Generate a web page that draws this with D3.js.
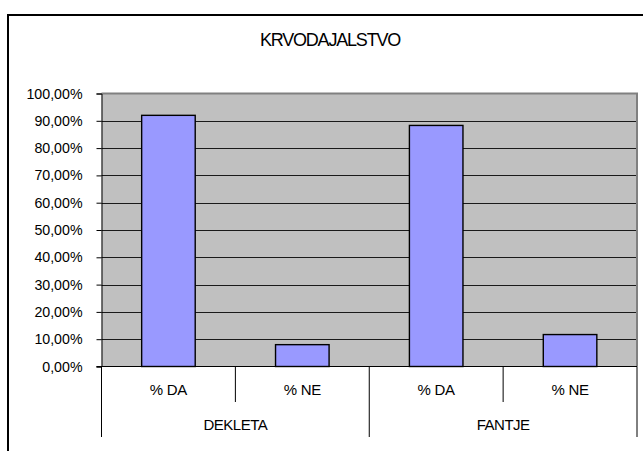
<!DOCTYPE html>
<html>
<head>
<meta charset="utf-8">
<script src="https://cdn.jsdelivr.net/npm/d3@7"></script>
<style>
  body { margin: 0; background: #fff; }
  svg text { font-family: Arial, "Liberation Sans", sans-serif; fill: #000; }
</style>
</head>
<body>
<div id="chart"></div>
<script>
// data
var title = 'KRVODAJALSTVO';
var groups = ['DEKLETA', 'FANTJE'];
var categories = ['% DA', '% NE'];
var dekletaValues = [0.92, 0.08];
var fantjeValues = [0.883, 0.117];
var yTickValues = [0, 0.1, 0.2, 0.3, 0.4, 0.5, 0.6, 0.7, 0.8, 0.9, 1];

var seriesByGroup = [dekletaValues, fantjeValues];
var rows = [];
groups.forEach(function(g, gi){
  categories.forEach(function(c, ci){
    rows.push({group: g, cat: c, value: seriesByGroup[gi][ci]});
  });
});

var width = 643, height = 451;
var plot = {left: 101.5, right: 637, top: 93.5, bottom: 366.5};

var svg = d3.select('#chart').append('svg')
  .attr('width', width).attr('height', height);

// outer chart border (cut off at the right and bottom in the original)
svg.append('rect')
  .attr('x', 8).attr('y', 15)
  .attr('width', 700).attr('height', 500)
  .attr('fill', 'none').attr('stroke', '#000').attr('stroke-width', 2);

svg.append('text')
  .attr('x', 330).attr('y', 45.5)
  .attr('text-anchor', 'middle')
  .style('font-size', '18px')
  .style('letter-spacing', '-1.2px')
  .text(title);

var locale = d3.formatLocale({decimal: ',', thousands: '.', grouping: [3], currency: ['', '']});
var pct = locale.format('.2%');

var y = d3.scaleLinear().domain([0, 1]).range([plot.bottom, plot.top]);
var x0 = d3.scaleBand().domain(groups).range([plot.left, plot.right]);
var x1 = d3.scaleBand().domain(categories).range([0, x0.bandwidth()])
  .paddingInner(0.6).paddingOuter(0.3);
var xSub = d3.scaleBand().domain(categories).range([0, x0.bandwidth()]);

// plot area
svg.append('rect')
  .attr('x', plot.left).attr('y', plot.top)
  .attr('width', plot.right - plot.left).attr('height', plot.bottom - plot.top)
  .attr('fill', '#C0C0C0');
svg.append('path')
  .attr('d', 'M' + plot.left + ',' + plot.top + 'H' + plot.right + 'V' + plot.bottom)
  .attr('fill', 'none').attr('stroke', '#808080').attr('stroke-width', 2);

// gridlines
svg.append('g').selectAll('line')
  .data(yTickValues.filter(function(d){ return d > 0 && d < 1; }))
  .join('line')
  .attr('x1', plot.left).attr('x2', plot.right - 1)
  .attr('y1', function(d){ return Math.round(y(d)) + 0.5; })
  .attr('y2', function(d){ return Math.round(y(d)) + 0.5; })
  .attr('stroke', '#1a1a1a').attr('stroke-width', 1);

// bars
svg.append('g').selectAll('rect')
  .data(rows)
  .join('rect')
  .attr('x', function(d){ return x0(d.group) + x1(d.cat); })
  .attr('width', x1.bandwidth())
  .attr('y', function(d){ return y(d.value); })
  .attr('height', function(d){ return y(0) - y(d.value); })
  .attr('fill', '#9999FF')
  .attr('stroke', '#000').attr('stroke-width', 1.4);

// y axis
var yAxis = d3.axisLeft(y).tickValues(yTickValues).tickFormat(pct)
  .tickSize(5).tickPadding(14);
var gy = svg.append('g')
  .attr('transform', 'translate(' + plot.left + ',0)')
  .call(yAxis);
gy.select('.domain').attr('stroke', '#000');
gy.selectAll('.tick line').attr('stroke', '#000');
gy.selectAll('.tick text')
  .style('font-size', '14.2px')
  .attr('font-family', null);

// x axis: baseline and two-level category labels
var gx = svg.append('g');
gx.append('line')
  .attr('x1', plot.left - 5).attr('x2', plot.right)
  .attr('y1', plot.bottom).attr('y2', plot.bottom)
  .attr('stroke', '#000');

// group separators (long)
var groupEdges = groups.map(function(g){ return x0(g); }).concat([plot.right]);
gx.selectAll('line.grp')
  .data(groupEdges)
  .join('line').attr('class', 'grp')
  .attr('x1', function(d){ return d; }).attr('x2', function(d){ return d; })
  .attr('y1', plot.bottom).attr('y2', 437)
  .attr('stroke', '#000').attr('stroke-width', 1);

// sub-category separators (short)
gx.selectAll('line.sub')
  .data(groups)
  .join('line').attr('class', 'sub')
  .attr('x1', function(g){ return x0(g) + xSub(categories[1]); })
  .attr('x2', function(g){ return x0(g) + xSub(categories[1]); })
  .attr('y1', plot.bottom).attr('y2', 402)
  .attr('stroke', '#000');

gx.selectAll('text.sub')
  .data(rows)
  .join('text').attr('class', 'sub')
  .attr('x', function(d){ return x0(d.group) + xSub(d.cat) + xSub.bandwidth() / 2; })
  .attr('y', 395)
  .attr('text-anchor', 'middle')
  .style('font-size', '15px')
  .style('letter-spacing', '-0.3px')
  .text(function(d){ return d.cat; });

gx.selectAll('text.grp')
  .data(groups)
  .join('text').attr('class', 'grp')
  .attr('x', function(g){ return x0(g) + x0.bandwidth() / 2; })
  .attr('y', 430)
  .attr('text-anchor', 'middle')
  .style('font-size', '15px')
  .style('letter-spacing', '-0.5px')
  .text(function(g){ return g; });
</script>
</body>
</html>
